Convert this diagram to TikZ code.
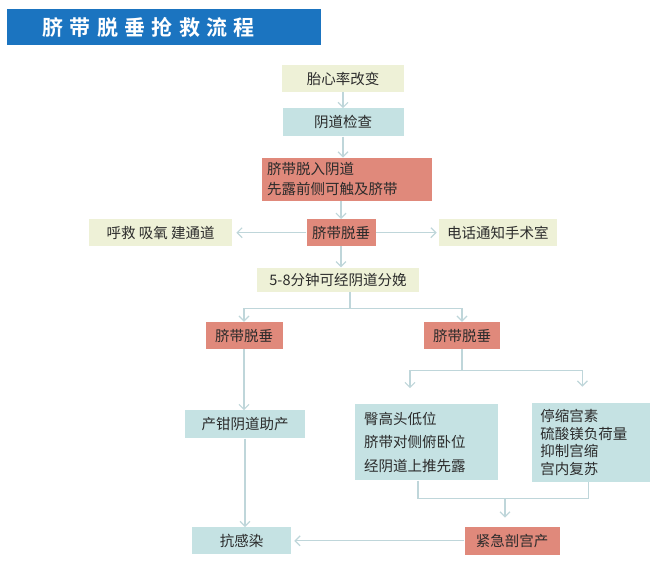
\documentclass[tikz,border=0pt]{standalone}
\usepackage{fontspec}
\setmainfont{Noto Sans CJK SC}[BoldFont={Noto Sans CJK SC Bold}]
\usetikzlibrary{positioning,arrows.meta}
\definecolor{bandblue}{HTML}{1B74C0}
\definecolor{salmon}{HTML}{E0897B}
\definecolor{paleyellow}{HTML}{EEF1D7}
\definecolor{paleteal}{HTML}{C5E2E3}
\definecolor{linkgray}{HTML}{BFD6DA}
\definecolor{inkgray}{HTML}{2B2B2B}

\begin{document}
\begin{tikzpicture}[x=1pt, y=1pt,
	box/.style = { inner sep=0pt, font=\fontsize{14.5}{17}\selectfont,
			text=inkgray, align=center },
	yellowbox/.style = { box, fill=paleyellow },
	tealbox/.style = { box, fill=paleteal },
	redbox/.style = { box, fill=salmon },
	plain/.style = { draw=linkgray, line width=1.2pt },
	link/.style = { plain, -{Straight Barb[length=5pt,width=10pt]} }]

  \useasboundingbox (0,0) rectangle (655,-565);
  \fill[bandblue] (7,-9) rectangle (321,-45);
  \node[name=title, anchor=west, text=white,
    font=\fontsize{21}{21}\selectfont\bfseries] at (39,-27) {\addfontfeature{LetterSpace=30}脐带脱垂抢救流程};

  \node[name=fhr, yellowbox, minimum width=122pt, minimum height=27pt] at (343,-78.5) {胎心率改变};
  \node[name=exam, tealbox, below=16pt of fhr, minimum width=121pt, minimum height=28pt] {阴道检查};
  \node[name=prolapse, redbox, below=21pt of exam, xshift=4pt, minimum width=170pt,
    minimum height=43pt, text width=160pt, align=left, font=\fontsize{14.5}{20}\selectfont]
    {脐带脱入阴道\\先露前侧可触及脐带};
  \node[name=cord, redbox, below=18pt of prolapse, xshift=-6pt, minimum width=69pt, minimum height=27pt] {脐带脱垂};
  \node[name=call, yellowbox, left=74pt of cord, minimum width=143pt, minimum height=27pt] {呼救 吸氧 建通道};
  \node[name=phone, yellowbox, right=63pt of cord, minimum width=118pt, minimum height=27pt] {电话通知手术室};
  \node[name=vag, yellowbox, below=21pt of cord, xshift=-3pt, minimum width=162pt, minimum height=24pt] {5-8分钟可经阴道分娩};
  \node[name=cordL, redbox, below=30pt of vag, xshift=-94pt, minimum width=77pt, minimum height=27pt] {脐带脱垂};
  \node[name=cordR, redbox, below=30pt of vag, xshift=124pt, minimum width=76pt, minimum height=27pt] {脐带脱垂};
  \node[name=forceps, tealbox, below=61pt of cordL, xshift=1pt, minimum width=120pt, minimum height=28pt] {产钳阴道助产};
  \node[name=measA, tealbox, below=55pt of cordR, xshift=-35.5pt, minimum width=143pt,
    minimum height=76pt, text width=125pt, align=left, font=\fontsize{14.5}{23.5}\selectfont]
    {臀高头低位\\脐带对侧俯卧位\\经阴道上推先露};
  \node[name=measB, tealbox, right=34pt of measA, minimum width=118pt,
    minimum height=79pt, text width=102pt, align=left, font=\fontsize{14.5}{17.5}\selectfont]
    {停缩宫素\\硫酸镁负荷量\\抑制宫缩\\宫内复苏};
  \node[name=cs, redbox, below=46pt of measA, xshift=85.5pt, minimum width=95pt, minimum height=28pt] {紧急剖宫产};
  \node[name=infect, tealbox, left=173pt of cs, minimum width=99pt, minimum height=27pt] {抗感染};

  \draw [link] (fhr) -- (exam);
  \draw [link] (exam) -- (exam |- prolapse.north);
  \draw [link] (prolapse.south -| cord) -- (cord);
  \draw [link, shorten >=4pt] (cord) -- (call);
  \draw [link, shorten >=2pt] (cord) -- (phone);
  \draw [link] (cord) -- (cord |- vag.north);
  \draw [plain] ([xshift=12pt]vag.south) -- ++(0,-17) coordinate (fork);
  \draw [link] (fork) -| (cordL);
  \draw [link] (fork) -| (cordR);
  \draw [link] (cordL) -- (cordL |- forceps.north);
  \draw [link] (forceps) -- (forceps |- infect.north);
  \coordinate (inA) at ([xshift=-16.5pt]measA.north);
  \coordinate (inB) at ([xshift=-9pt]measB.north);
  \draw [plain] (cordR.south) -- ++(0,-21) coordinate (forkR);
  \draw [link, shorten >=16pt] (forkR) -| (inA);
  \draw [link, shorten >=16pt] (forkR) -| (inB);
  \draw [plain] ([xshift=-8.5pt]measA.south) -- ++(0,-18) coordinate (joinA)
    -| ([xshift=-3pt]measB.south);
  \coordinate (inCS) at ([xshift=-7pt]cs.north);
  \draw [link, shorten >=9pt] (inCS |- joinA) -- (inCS);
  \draw [link, shorten >=3pt] (cs) -- (infect);
\end{tikzpicture}
\end{document}
